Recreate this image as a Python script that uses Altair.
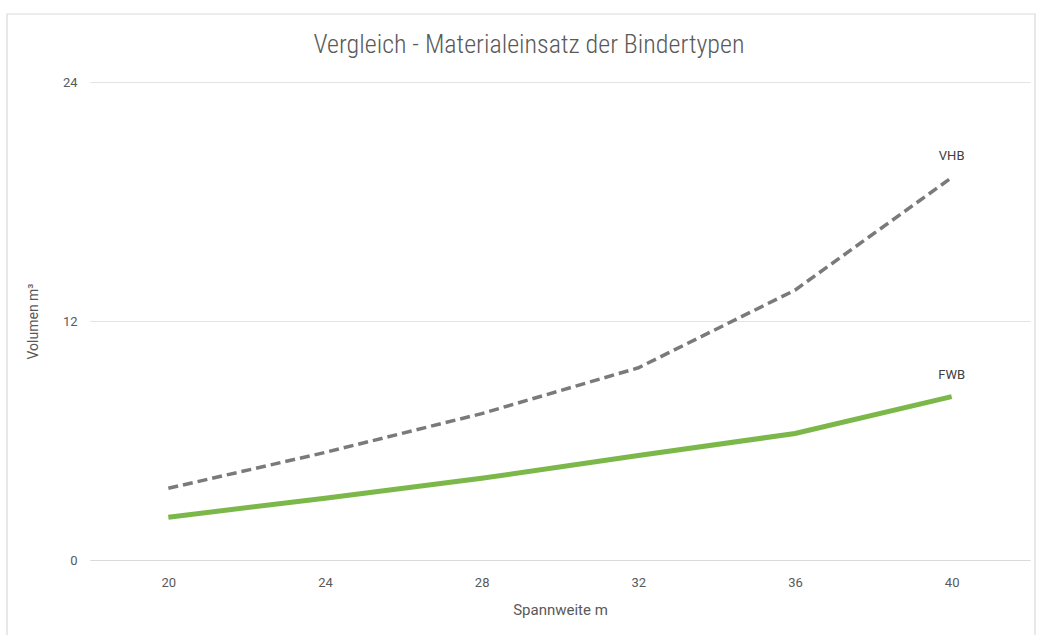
import altair as alt
import pandas as pd

spans = [20, 24, 28, 32, 36, 40]
vhb = [3.6, 5.4, 7.35, 9.65, 13.55, 19.2]
fwb = [2.15, 3.1, 4.1, 5.25, 6.35, 8.2]
series_names = ["VHB", "FWB"]
y_ticks = [0, 12, 24]
title_text = "Vergleich - Materialeinsatz der Bindertypen"

rows = []
for s, v in zip(spans, vhb):
    rows.append({"Spannweite": s, "Volumen": v, "Typ": "VHB"})
for s, v in zip(spans, fwb):
    rows.append({"Spannweite": s, "Volumen": v, "Typ": "FWB"})
df = pd.DataFrame(rows)
last = df[df["Typ"].isin(series_names) & (df["Spannweite"] == spans[-1])]

TFONT = "Roboto Condensed, Liberation Sans Narrow, sans-serif"
FONT = "Roboto, Liberation Sans, sans-serif"
GRAY = "#595959"

x = alt.X("Spannweite:Q",
          scale=alt.Scale(domain=[18, 42], nice=False, zero=False),
          axis=alt.Axis(values=spans, title="Spannweite m", grid=False, ticks=False,
                        domainColor="#d9d9d9", domainWidth=1.2, labelPadding=16,
                        labelFontSize=13, labelColor=GRAY, labelFont=FONT,
                        titleFont=FONT, titleFontSize=15, titleColor=GRAY,
                        titleFontWeight="normal", titlePadding=13))
y = alt.Y("Volumen:Q",
          scale=alt.Scale(domain=[0, 24], nice=False),
          axis=alt.Axis(values=y_ticks, title="Volumen m³", grid=True, gridColor="#e3e3e3",
                        ticks=False, domain=False, labelPadding=13, labelFontSize=13,
                        labelColor=GRAY, labelFont=FONT, titleFont=FONT, titleFontSize=14,
                        titleColor=GRAY, titleFontWeight="normal", titlePadding=22))

vhb_line = alt.Chart(df[df["Typ"] == "VHB"]).mark_line(
    strokeDash=[10, 5], strokeWidth=3.5, color="#7a7a7a").encode(x=x, y=y)
fwb_line = alt.Chart(df[df["Typ"] == "FWB"]).mark_line(
    strokeWidth=5, color="#7cb749").encode(x=x, y=y)

labels = alt.Chart(last).mark_text(dy=-22, fontSize=13, font=FONT, color="#404040").encode(
    x=x, y=y, text="Typ:N")

border = alt.Chart(pd.DataFrame({"a": [0]})).mark_rect(
    fill=None, stroke="#d9d9d9", strokeWidth=1.2).encode(
    x=alt.value(-83), x2=alt.value(945), y=alt.value(-68), y2=alt.value(570))

title = alt.Chart(pd.DataFrame({"t": [title_text]})).mark_text(
    fontSize=26, font=TFONT, fontWeight=300, color=GRAY, align="center",
    baseline="middle").encode(x=alt.value(439), y=alt.value(-37), text="t:N")

chart = alt.layer(border, vhb_line, fwb_line, labels, title).properties(
    width=940, height=478,
    autosize=alt.AutoSizeParams(type="none"),
    padding={"left": 90, "top": 82, "right": 7, "bottom": 75},
    background="white",
).configure_view(stroke=None)

chart.save("out.html", embed_options={"renderer": "svg", "actions": False})
